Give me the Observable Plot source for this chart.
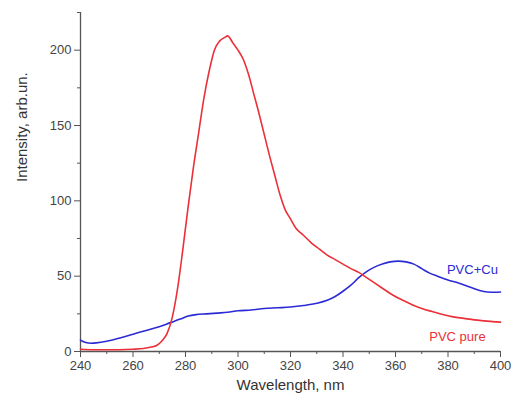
<!DOCTYPE html>
<html><head><meta charset="utf-8">
<script src="https://cdn.jsdelivr.net/npm/d3@7"></script>
<script src="https://cdn.jsdelivr.net/npm/@observablehq/plot@0.6"></script>
<style>
html,body{margin:0;padding:0;background:#fff;}
svg{font-family:"Liberation Sans",Arial,sans-serif;}
</style>
</head><body><div id="chart"></div>
<script>
const pureWl = [240,245,250,255,260,264,267,269,271,273,275,277,279,281,283,285,287,289,291,293,295,296,298,300,302,304,306,308,310,312,314,316,318,320,322,325,328,331,334,337,340,343,346,349,352,355,358,361,364,367,370,374,378,382,386,390,394,397,400];
const pureVal = [1.5,1.2,1.2,1.2,1.5,2,3,4,7,12,23,42,68,96,122,145,168,186,200,206,208.5,209.5,205,200,194,184,171,158,144,130,117,104,94,88,82,77,72,68,64,61,58,55,52.5,49,45.5,42,38.5,35.5,33,30.5,28.5,26.5,24.5,23,22,21,20.3,19.8,19.5];
const cuWl = [240,242,244,246,250,255,260,265,270,274,278,281,284,288,292,296,300,305,310,315,320,325,330,334,337,340,343,346,349,352,355,358,361,364,367,370,373,376,380,384,388,392,395,398,400];
const cuVal = [7.5,6,5.5,5.7,6.8,9,11.5,14,16.5,19,21.5,23.5,24.5,25,25.5,26,27,27.5,28.5,29,29.5,30.5,32,34,36.5,40,44,49,53,56,58,59.5,60,59.5,58,55,52,50,47.5,45.5,43,40.5,39.5,39.3,39.5];
const seriesNames = ["PVC pure","PVC+Cu"];
const seriesColors = ["#ea3038","#2b2bd6"];
const labelWl = [383.6, 389.3];
const labelVal = [10, 54];
const xMajor = [240,260,280,300,320,340,360,380,400];
const xMinor = [250,270,290,310,330,350,370,390];
const yMajor = [0,50,100,150,200];
const yMinor = [25,75,125,175,225];
const xTitle = "Wavelength, nm";
const yTitle = "Intensity, arb.un.";

const pure = pureWl.map((w,i)=>({w, v: pureVal[i], s: seriesNames[0]}));
const cu = cuWl.map((w,i)=>({w, v: cuVal[i], s: seriesNames[1]}));
const labels = seriesNames.map((s,i)=>({s, w: labelWl[i], v: labelVal[i]}));

const axisColor = "#555";
const chart = Plot.plot({
  width: 513, height: 403,
  marginLeft: 80, marginRight: 13, marginTop: 12, marginBottom: 52,
  style: {fontFamily: '"Liberation Sans", Arial, sans-serif', fontSize: "13px", color: "#444"},
  x: {domain: [240, 400]},
  y: {domain: [0, 225]},
  color: {domain: seriesNames, range: seriesColors},
  marks: [
    Plot.axisX(xMajor, {tickSize: 6, tickPadding: 3, stroke: axisColor, fontSize: 13, fill: "#444", label: null}),
    Plot.axisX(xMinor, {tickSize: 3, stroke: axisColor, tickFormat: () => "", label: null}),
    Plot.axisY(yMajor, {tickSize: 6, tickPadding: 3, stroke: axisColor, fontSize: 13, fill: "#444", label: null}),
    Plot.axisY(yMinor, {tickSize: 3, stroke: axisColor, tickFormat: () => "", label: null}),
    Plot.text([xTitle], {frameAnchor: "bottom", dy: 34, lineAnchor: "middle", fontSize: 15, fill: "#333"}),
    Plot.text([yTitle], {frameAnchor: "left", dx: -58, rotate: -90, lineAnchor: "middle", fontSize: 15, fill: "#333"}),
    Plot.ruleY([0], {stroke: axisColor, strokeWidth: 1.3}),
    Plot.ruleX([240], {stroke: axisColor, strokeWidth: 1.3}),
    Plot.line(cu, {x: "w", y: "v", stroke: "s", strokeWidth: 1.6, curve: "monotone-x"}),
    Plot.line(pure, {x: "w", y: "v", stroke: "s", strokeWidth: 1.6, curve: "monotone-x"}),
    Plot.text(labels, {x: "w", y: "v", text: "s", fill: "s", fontSize: 13})
  ]
});
document.getElementById("chart").appendChild(chart);
</script>
</body></html>
